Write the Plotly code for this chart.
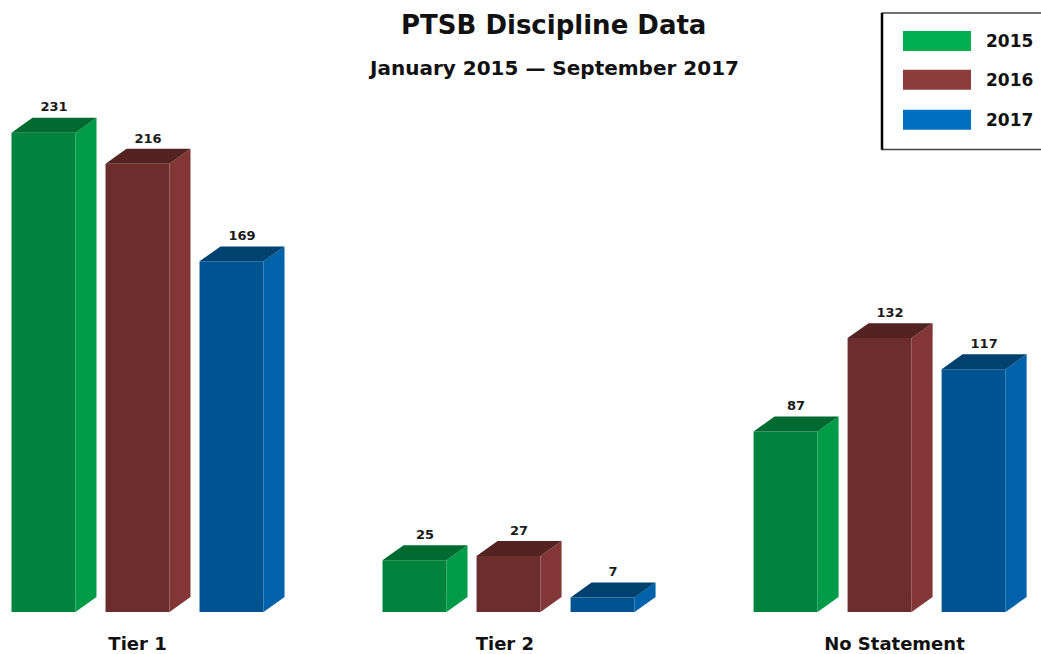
import plotly.graph_objects as go

categories = ["Tier 1", "Tier 2", "No Statement"]
years = ["2015", "2016", "2017"]
values_2015 = [231, 25, 87]
values_2016 = [216, 27, 132]
values_2017 = [169, 7, 117]

front_colors = ["#00843D", "#6B2D2D", "#005391"]
side_colors = ["#009B48", "#823636", "#0062AA"]
top_colors = ["#006B30", "#552222", "#00416F"]
legend_colors = ["#00B050", "#8E3B3B", "#0070C0"]

series = [values_2015, values_2016, values_2017]

BAR_STEP = 0.2534
BAR_W = 0.1725
DX = 0.0566
DY = 7.2
FONT = "DejaVu Sans"

fig = go.Figure()

for j, vals in enumerate(series):
    xs = [i + (j - 1) * BAR_STEP for i in range(len(categories))]
    for x, v in zip(xs, vals):
        x1 = x + BAR_W / 2
        fig.add_trace(go.Scatter(
            x=[x1, x1, x1 + DX, x1 + DX, x1], y=[0, v, v + DY, DY, 0],
            mode="lines", fill="toself", fillcolor=side_colors[j],
            line=dict(width=0), hoverinfo="skip", showlegend=False))
        x0 = x - BAR_W / 2
        fig.add_trace(go.Scatter(
            x=[x0, x1, x1 + DX, x0 + DX, x0], y=[v, v, v + DY, v + DY, v],
            mode="lines", fill="toself", fillcolor=top_colors[j],
            line=dict(width=0), hoverinfo="skip", showlegend=False))
    fig.add_trace(go.Bar(
        x=xs, y=vals, width=BAR_W, name=years[j],
        marker=dict(color=front_colors[j], line=dict(width=0)),
        showlegend=False))
    fig.add_trace(go.Scatter(
        x=[x + DX / 2 for x in xs], y=[v + DY + 1.5 for v in vals],
        mode="text", text=[f"<b>{v}</b>" for v in vals],
        textposition="top center",
        textfont=dict(family=FONT, size=13, color="#1a1a1a"),
        hoverinfo="skip", showlegend=False, cliponaxis=False))

W, H = 1041, 654
ML, MR, MT, MB = 0, 0, 20, 40
ph = H - MT - MB


def px_x(p):
    return (p - ML) / (W - ML - MR)


def px_y(p):
    return (H - MB - p) / ph


shapes = []
annotations = []
annotations.append(dict(x=px_x(553), y=px_y(25), xref="paper", yref="paper",
                        xanchor="center", yanchor="middle",
                        text="<b>PTSB Discipline Data</b>", showarrow=False,
                        font=dict(family=FONT, size=26, color="#111")))
annotations.append(dict(x=px_x(553), y=px_y(68), xref="paper", yref="paper",
                        xanchor="center", yanchor="middle",
                        text="<b>January 2015 — September 2017</b>", showarrow=False,
                        font=dict(family=FONT, size=20, color="#111")))
shapes.append(dict(type="rect", xref="paper", yref="paper",
                   x0=px_x(882), x1=px_x(1060), y0=px_y(150), y1=px_y(13),
                   line=dict(color="#444", width=1.5), fillcolor="white"))
shapes.append(dict(type="line", xref="paper", yref="paper",
                   x0=px_x(882), x1=px_x(882), y0=px_y(150), y1=px_y(13),
                   line=dict(color="#000", width=2.5)))
row_y = [41, 80, 120]
for j, yname in enumerate(years):
    shapes.append(dict(type="rect", xref="paper", yref="paper",
                       x0=px_x(903), x1=px_x(971), y0=px_y(row_y[j] + 10), y1=px_y(row_y[j] - 10),
                       line=dict(width=0), fillcolor=legend_colors[j]))
    annotations.append(dict(x=px_x(984), y=px_y(row_y[j]), xref="paper", yref="paper",
                            xanchor="left", yanchor="middle",
                            text=f"<b>{yname}</b>", showarrow=False,
                            font=dict(family=FONT, size=17, color="#111")))

fig.update_layout(
    width=W, height=H,
    margin=dict(l=ML, r=MR, t=MT, b=MB),
    paper_bgcolor="white", plot_bgcolor="white",
    barmode="overlay",
    showlegend=False,
    shapes=shapes, annotations=annotations,
    xaxis=dict(range=[-0.3706, 2.435], tickmode="array",
               tickvals=[0, 0.99, 2.04], ticktext=[f"<b>{c}</b>" for c in categories],
               showgrid=False, zeroline=False, showline=False, ticks="",
               ticklabelstandoff=19,
               tickfont=dict(family=FONT, size=18, color="#111"), fixedrange=True),
    yaxis=dict(range=[0, ph / 2.082], showgrid=False, zeroline=False,
               showticklabels=False, showline=False, fixedrange=True),
)

fig.write_html("out.html", config={"displayModeBar": False},
               post_script="document.body.style.margin='0';")
